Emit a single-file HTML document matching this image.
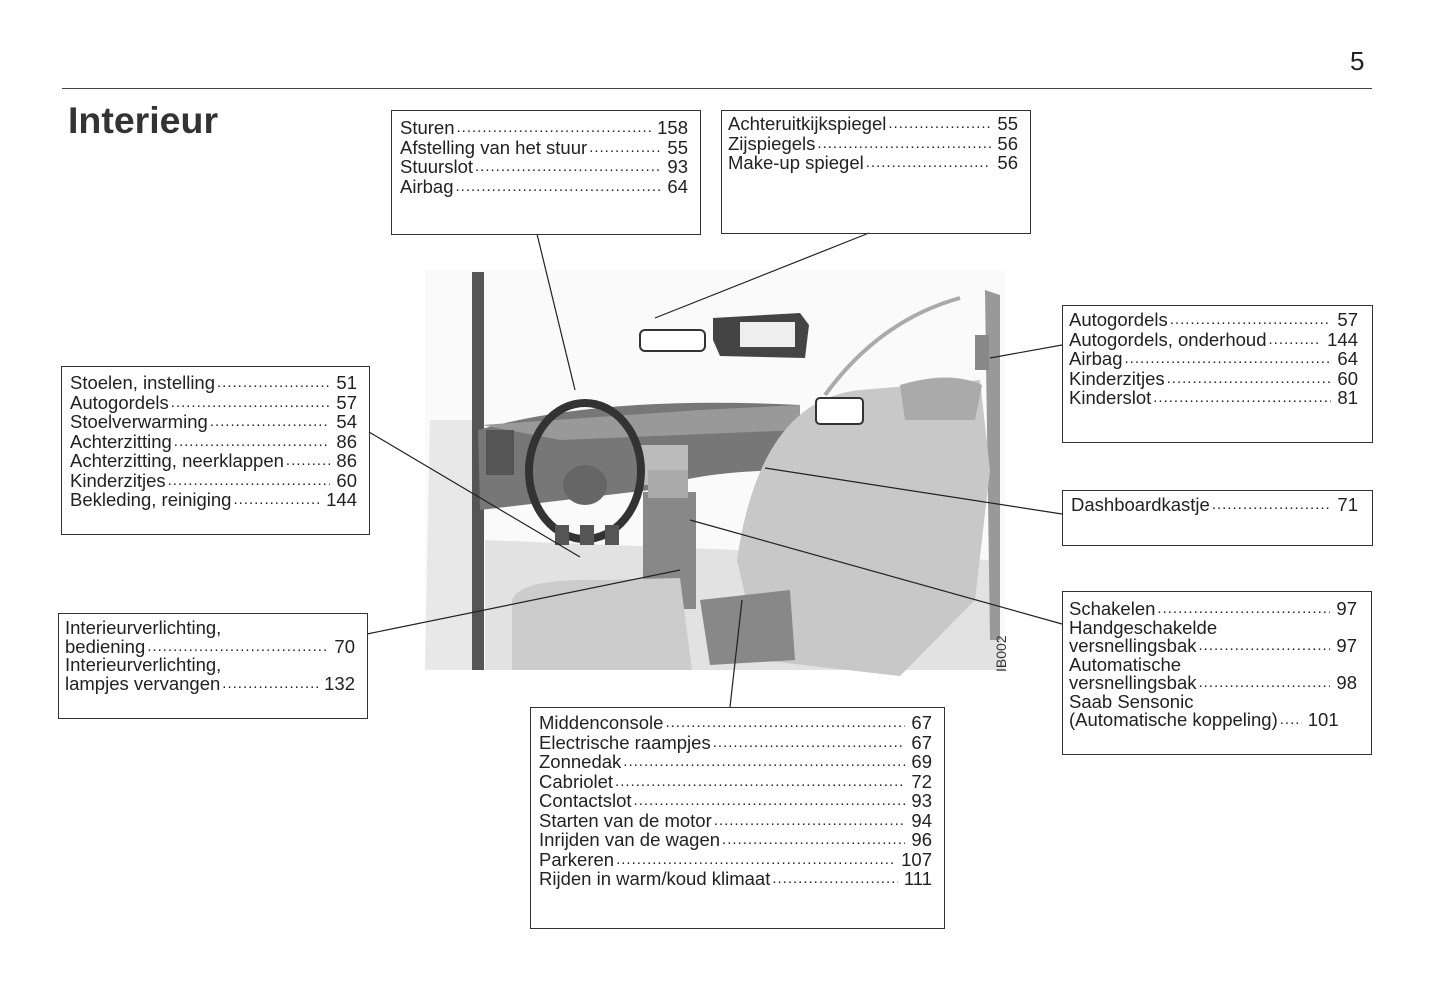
<!DOCTYPE html>
<html><head><meta charset="utf-8"><style>
body{margin:0;background:#fff;width:1445px;height:998px;position:relative;overflow:hidden;font-family:"Liberation Sans",sans-serif;color:#222}
.box{position:absolute;border:1.3px solid #333;box-sizing:border-box;padding:6px 12px 0 8px;font-size:18.5px;line-height:19.5px}
.r{display:flex;white-space:nowrap}
.r .d{flex:1;overflow:hidden;margin:0 6px 0 2px;letter-spacing:1px;font-size:15px}
.r .d:before{content:"......................................................................................................................................";}
.t{white-space:nowrap}
</style></head><body>
<div style="position:absolute;left:62px;top:88px;width:1310px;height:1.3px;background:#444"></div>
<div style="position:absolute;left:1350px;top:46px;font-size:26px">5</div>
<div style="position:absolute;left:68px;top:99px;font-size:37.5px;font-weight:bold;color:#333">Interieur</div>

<svg style="position:absolute;left:0;top:0" width="1445" height="998">
<g>
<rect x="425" y="270" width="580" height="400" fill="#fafafa"/>
<path d="M430 420 L478 420 L478 670 L425 670 Z" fill="#e8e8e8"/>
<path d="M485 540 L990 560 L1005 670 L485 670Z" fill="#e2e2e2"/>
<rect x="472" y="272" width="12" height="398" fill="#555"/>
<path d="M985 290 L1000 295 L1000 640 L990 640Z" fill="#999"/>
<path d="M478 430 Q600 395 800 405 L800 470 Q700 470 650 490 L480 510Z" fill="#777"/>
<path d="M482 425 L700 410 L800 405 L800 430 L560 440Z" fill="#999"/>
<rect x="486" y="430" width="28" height="45" fill="#555"/>
<rect x="640" y="445" width="48" height="40" fill="#bbb"/>
<rect x="643" y="492" width="53" height="117" fill="#888"/>
<rect x="648" y="470" width="40" height="28" fill="#aaa"/>
<path d="M800 420 L830 405 L850 420 L830 470 L790 470Z" fill="#aaa"/>
<path d="M737 560 Q760 400 860 390 L980 380 L990 470 L975 600 L900 676 L760 660Z" fill="#c8c8c8"/>
<path d="M900 385 Q950 370 982 385 L975 420 L905 420Z" fill="#aaa"/>
<path d="M512 600 Q520 578 600 580 L680 578 L692 670 L512 670Z" fill="#ccc"/>
<path d="M700 600 L790 590 L795 660 L710 665Z" fill="#888"/>
<ellipse cx="585" cy="471" rx="56" ry="68" fill="none" stroke="#333" stroke-width="8"/>
<ellipse cx="585" cy="485" rx="22" ry="20" fill="#666"/>
<rect x="555" y="525" width="14" height="20" fill="#555"/><rect x="580" y="525" width="14" height="20" fill="#555"/><rect x="605" y="525" width="14" height="20" fill="#555"/>
<rect x="640" y="330" width="65" height="21" rx="5" fill="#fff" stroke="#333" stroke-width="2"/>
<path d="M713 318 L800 313 L809 325 L805 358 L720 356 L713 340Z" fill="#444"/>
<rect x="740" y="322" width="55" height="25" fill="#eee"/>
<rect x="816" y="398" width="47" height="26" rx="4" fill="#fff" stroke="#333" stroke-width="2"/>
<path d="M825 395 Q880 320 960 298" fill="none" stroke="#aaa" stroke-width="4"/>
<rect x="975" y="335" width="14" height="35" fill="#888"/>
</g>
<text x="0" y="0" transform="translate(1006,672) rotate(-90)" font-family="Liberation Sans" font-size="14" fill="#333">IB002</text>
<g stroke="#222" stroke-width="1.2">
<line x1="537" y1="234" x2="575" y2="390"/>
<line x1="869" y1="233" x2="655" y2="318"/>
<line x1="369" y1="432" x2="580" y2="557"/>
<line x1="367" y1="634" x2="680" y2="570"/>
<line x1="730" y1="707" x2="742" y2="600"/>
<line x1="1062" y1="345" x2="990" y2="358"/>
<line x1="1062" y1="514" x2="765" y2="468"/>
<line x1="1062" y1="624" x2="690" y2="520"/>
</g>
</svg>

<div class="box" style="left:391px;top:110px;width:310px;height:125px;padding-top:7px">
<div class="r">Sturen<span class="d"></span>158</div>
<div class="r">Afstelling van het stuur<span class="d"></span>55</div>
<div class="r">Stuurslot<span class="d"></span>93</div>
<div class="r">Airbag<span class="d"></span>64</div>
</div>
<div class="box" style="left:721px;top:110px;width:310px;height:124px;padding-top:3px;padding-left:6px">
<div class="r">Achteruitkijkspiegel<span class="d"></span>55</div>
<div class="r">Zijspiegels<span class="d"></span>56</div>
<div class="r">Make-up spiegel<span class="d"></span>56</div>
</div>
<div class="box" style="left:61px;top:366px;width:309px;height:169px;padding-top:6px">
<div class="r">Stoelen, instelling<span class="d"></span>51</div>
<div class="r">Autogordels<span class="d"></span>57</div>
<div class="r">Stoelverwarming<span class="d"></span>54</div>
<div class="r">Achterzitting<span class="d"></span>86</div>
<div class="r">Achterzitting, neerklappen<span class="d"></span>86</div>
<div class="r">Kinderzitjes<span class="d"></span>60</div>
<div class="r">Bekleding, reiniging<span class="d"></span>144</div>
</div>
<div class="box" style="left:58px;top:613px;width:310px;height:106px;padding-top:5px;line-height:18.5px;padding-left:6px">
<div class="t">Interieurverlichting,</div>
<div class="r">bediening<span class="d"></span>70</div>
<div class="t">Interieurverlichting,</div>
<div class="r">lampjes vervangen<span class="d"></span>132</div>
</div>
<div class="box" style="left:530px;top:707px;width:415px;height:222px;padding-top:5px;padding-right:12px">
<div class="r">Middenconsole<span class="d"></span>67</div>
<div class="r">Electrische raampjes<span class="d"></span>67</div>
<div class="r">Zonnedak<span class="d"></span>69</div>
<div class="r">Cabriolet<span class="d"></span>72</div>
<div class="r">Contactslot<span class="d"></span>93</div>
<div class="r">Starten van de motor<span class="d"></span>94</div>
<div class="r">Inrijden van de wagen<span class="d"></span>96</div>
<div class="r">Parkeren<span class="d"></span>107</div>
<div class="r">Rijden in warm/koud klimaat<span class="d"></span>111</div>
</div>
<div class="box" style="left:1062px;top:305px;width:311px;height:138px;padding-top:4px;padding-right:14px;padding-left:6px">
<div class="r">Autogordels<span class="d"></span>57</div>
<div class="r">Autogordels, onderhoud<span class="d"></span>144</div>
<div class="r">Airbag<span class="d"></span>64</div>
<div class="r">Kinderzitjes<span class="d"></span>60</div>
<div class="r">Kinderslot<span class="d"></span>81</div>
</div>
<div class="box" style="left:1062px;top:490px;width:311px;height:56px;padding-top:4px;padding-right:14px">
<div class="r">Dashboardkastje<span class="d"></span>71</div>
</div>
<div class="box" style="left:1062px;top:591px;width:310px;height:164px;padding-top:8px;padding-right:14px;padding-left:6px;line-height:18.5px">
<div class="r">Schakelen<span class="d"></span>97</div>
<div class="t">Handgeschakelde</div>
<div class="r">versnellingsbak<span class="d"></span>97</div>
<div class="t">Automatische</div>
<div class="r">versnellingsbak<span class="d"></span>98</div>
<div class="t">Saab Sensonic</div>
<div class="r">(Automatische koppeling)<span class="d" style="flex:0 0 22px"></span>101</div>
</div>
</body></html>
